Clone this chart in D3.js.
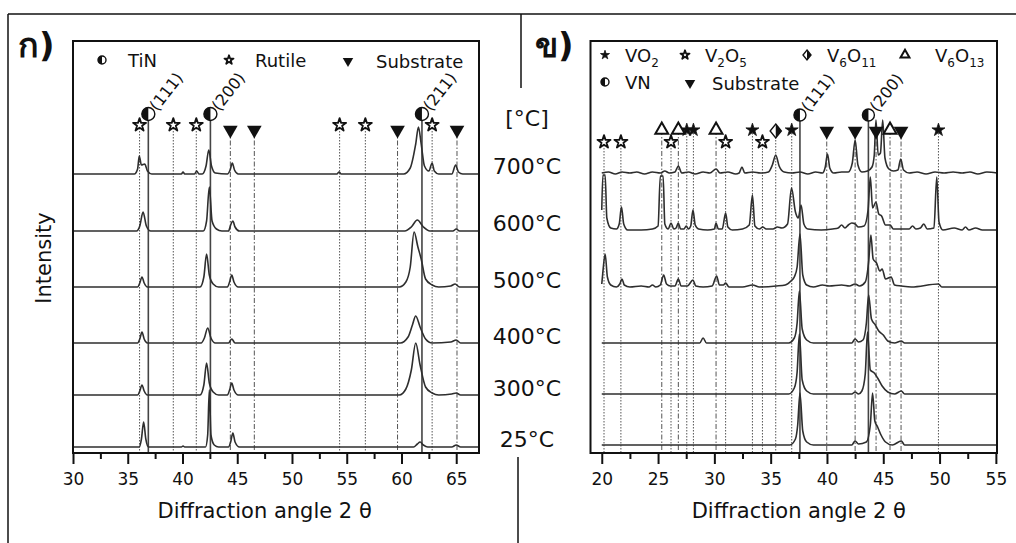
<!DOCTYPE html>
<html>
<head>
<meta charset="utf-8">
<script src="https://cdn.jsdelivr.net/npm/d3@7"></script>
<style>
  body { margin: 0; background: #fff; }
  text { font-family: "DejaVu Sans", sans-serif; fill: #111; }
</style>
</head>
<body>
<svg id="fig" width="1016" height="543"></svg>
<script>
// ---- data: temperatures and baseline offsets (intensity units) ----
const temps = ["700°C", "600°C", "500°C", "400°C", "300°C", "25°C"];
const offsetsL = [279, 222, 166, 110, 58, 6];
const offsetsR = [280, 223, 166, 110, 59, 8];

// panel ก : TiN films, [2θ, intensity]
const tiL700 = [[30,0],[35.6,0],[35.9,5],[36.05,18],[36.25,9],[36.55,10],[36.8,3],[37.2,0],[39.9,0],[40.05,2],[40.2,0],[41.1,0],[41.3,3],[41.5,0],[41.8,0],[42.15,8],[42.4,24],[42.65,8],[43.0,1],[44.1,0],[44.35,4],[44.55,11],[44.75,4],[45.1,0],[54.1,0],[54.3,2],[54.5,0],[60.2,0],[60.8,6],[61.3,30],[61.55,47],[61.8,30],[62.1,8],[62.5,3],[62.8,11],[63.0,3],[63.4,0],[64.6,0],[64.95,9],[65.2,2],[65.6,0],[67.08,0]];
const tiL600 = [[30,0],[35.8,0],[36.1,5],[36.4,19],[36.7,5],[37.1,0],[41.9,0],[42.2,10],[42.45,44],[42.7,10],[43.1,2],[43.6,0],[44.2,0],[44.4,6],[44.6,10],[44.8,4],[45.2,0],[60.3,0],[60.9,4],[61.45,11],[62.0,4],[62.6,0],[64.7,0],[65,2],[65.3,0],[67.08,0]];
const tiL500 = [[30,0],[35.9,0],[36.1,4],[36.3,10],[36.5,4],[36.8,0],[41.6,0],[41.95,10],[42.2,33],[42.45,12],[42.8,3],[43.3,0],[44.1,0],[44.3,5],[44.5,12],[44.7,5],[45.1,0],[59.8,0],[60.4,5],[60.8,20],[61.15,55],[61.5,40],[61.8,28],[62.2,8],[62.8,2],[63.4,0],[64.5,1],[64.9,3],[65.3,0],[67.08,0]];
const tiL400 = [[30,0],[35.9,0],[36.1,4],[36.3,11],[36.5,4],[36.8,0],[41.7,0],[42.0,5],[42.3,15],[42.6,5],[43.0,0],[44.2,0],[44.5,4],[44.8,0],[59.9,0],[60.6,6],[61.0,18],[61.3,27],[61.7,16],[62.2,4],[62.8,0],[64.5,1],[65,3],[65.4,0],[67.08,0]];
const tiL300 = [[30,0],[35.9,0],[36.1,4],[36.3,10],[36.5,4],[36.8,0],[41.6,0],[41.95,10],[42.2,32],[42.45,12],[42.8,3],[43.3,0],[44.1,0],[44.3,5],[44.5,12],[44.7,5],[45.1,0],[59.8,0],[60.4,6],[60.9,25],[61.3,52],[61.7,30],[62.2,8],[62.8,2],[63.4,0],[64.6,1],[65,2],[65.4,0],[67.08,0]];
const tiL25 = [[30,0],[36.05,0],[36.25,8],[36.45,25],[36.65,8],[36.9,0],[39.9,0],[40.05,1],[40.2,0],[42.1,0],[42.3,12],[42.45,57],[42.6,12],[42.9,2],[43.3,0],[44.2,0],[44.4,5],[44.6,14],[44.8,5],[45.2,0],[61.1,0],[61.45,3],[61.7,5],[62.0,2],[62.4,0],[64.6,0],[65,2],[65.4,0],[67.08,0]];

// panel ข : VN films
const vR700 = [[20,0],[20.6,1],[21.2,-1],[21.8,1],[22.5,0],[23.1,1],[23.8,-1],[24.5,1],[25.2,0],[25.6,2],[26.0,0],[26.5,1],[26.8,7],[27.1,0],[27.7,1],[28.3,-1],[29.0,1],[29.6,0],[30.15,4],[30.5,0],[31.2,1],[31.9,-1],[32.2,0],[32.45,6],[32.7,0],[33.4,1],[34.1,0],[34.8,1],[35.15,8],[35.45,18],[35.75,7],[36.2,1],[36.9,0],[37.6,1],[38.3,-1],[39.0,1],[39.6,0],[39.85,6],[40.05,19],[40.25,5],[40.6,0],[41.3,1],[41.9,1],[42.25,10],[42.5,33],[42.75,8],[43.1,1],[43.6,2],[44.0,6],[44.2,18],[44.35,53],[44.55,18],[44.75,20],[44.95,53],[45.15,15],[45.5,4],[45.9,2],[46.3,3],[46.55,14],[46.8,3],[47.3,0],[48.0,1],[48.8,-1],[49.6,1],[50.4,0],[51.2,1],[52.0,0],[52.7,1],[53.4,-1],[54.2,1],[55.1,0]];
const vR600 = [[20,20],[20.1,55],[20.3,55],[20.45,12],[20.8,2],[21.3,1],[21.55,6],[21.75,23],[21.95,6],[22.3,0],[23.5,0],[24.5,1],[25.0,4],[25.2,54],[25.45,54],[25.6,6],[25.9,1],[26.15,7],[26.4,1],[26.6,2],[26.8,7],[27.0,1],[27.3,1],[27.5,4],[27.7,1],[27.9,4],[28.1,20],[28.3,5],[28.6,1],[29.4,0],[30.0,1],[30.15,7],[30.35,1],[30.7,1],[31.0,17],[31.2,3],[31.6,0],[32.5,1],[33.1,5],[33.38,35],[33.6,4],[34.0,1],[34.3,3],[34.6,1],[35.2,1],[35.6,3],[36.0,2],[36.5,6],[36.85,42],[37.2,18],[37.45,12],[37.7,25],[37.95,6],[38.3,1],[39.5,0],[40.5,1],[41.0,2],[41.3,5],[41.6,2],[41.9,5],[42.2,7],[42.5,6],[42.8,3],[43.3,4],[43.65,20],[43.85,53],[44.05,22],[44.35,28],[44.6,16],[44.85,14],[45.2,5],[45.6,5],[45.9,1],[46.6,1],[47.3,1],[47.6,4],[47.9,1],[48.3,2],[48.6,6],[48.9,1],[49.5,2],[49.75,53],[49.95,8],[50.3,0],[51.3,2],[52.0,0],[52.3,3],[52.6,0],[53.2,2],[53.8,0],[55.1,0]];
const vR500 = [[20,3],[20.1,15],[20.3,33],[20.5,10],[20.8,2],[21.3,0],[21.6,3],[21.8,8],[22.0,2],[22.5,0],[23.5,1],[24.2,0],[24.5,2],[24.8,0],[25.2,2],[25.5,12],[25.75,3],[26.1,1],[26.5,1],[26.8,8],[27.05,1],[27.6,1],[28.1,7],[28.35,1],[29.0,0],[29.8,1],[30.2,11],[30.45,2],[30.8,2],[31.0,4],[31.3,0],[32.5,0],[33.4,2],[34.0,0],[35.5,1],[36.3,2],[36.8,6],[37.1,10],[37.35,20],[37.6,53],[37.85,12],[38.2,2],[38.8,0],[39.6,2],[40.2,1],[41.3,2],[42.0,1],[42.5,3],[42.9,1],[43.4,5],[43.7,25],[43.9,52],[44.1,28],[44.4,24],[44.7,16],[44.9,18],[45.2,8],[45.7,10],[46.0,2],[46.6,1],[47.5,0],[49.9,3],[50.2,0],[55.1,0]];
const vR400 = [[20,0],[28.7,0],[29.0,5],[29.3,0],[36.6,0],[37.1,5],[37.35,20],[37.55,52],[37.8,14],[38.2,3],[38.8,0],[42.2,0],[42.5,4],[42.8,1],[43.2,3],[43.5,20],[43.7,48],[43.95,24],[44.3,18],[44.6,12],[45.0,8],[45.4,2],[46.0,0],[46.6,2],[46.9,0],[55.1,0]];
const vR300 = [[20,0],[36.6,0],[37.1,6],[37.35,22],[37.55,60],[37.8,14],[38.2,3],[38.8,0],[42.2,0],[42.5,2],[42.8,0],[43.1,3],[43.4,20],[43.6,62],[43.85,24],[44.2,21],[44.5,16],[44.9,8],[45.4,2],[46.0,0],[46.6,3],[46.9,0],[55.1,0]];
const vR25 = [[20,0],[36.7,0],[37.2,6],[37.4,20],[37.6,52],[37.85,14],[38.2,3],[38.8,0],[42.2,0],[42.5,4],[42.8,1],[43.5,3],[43.85,20],[44.05,52],[44.25,24],[44.5,18],[44.8,10],[45.2,3],[45.8,0],[46.6,4],[46.9,0],[55.1,0]];

// reference peak positions (2θ)
const tinPeaks = [36.88, 42.55, 61.87];
const tinHkl = ["(111)", "(200)", "(211)"];
const rutilePeaks = [36.08, 39.16, 41.26, 54.35, 56.7, 62.8];
const substrateL = [44.37, 46.56, 59.64, 65.07];

const vnPeaks = [37.6, 43.68];
const vnHkl = ["(111)", "(200)"];
const vo2Peaks = [27.55, 28.14, 33.38, 36.87, 49.9];
const v2o5Peaks = [20.2, 21.7, 26.15, 31.0, 34.27];
const v6o11Peaks = [35.45];
const v6o13Peaks = [25.33, 26.8, 30.15, 45.6];
const substrateR = [39.98, 42.5, 44.36, 46.58];

const ticksL = [30, 35, 40, 45, 50, 55, 60, 65];
const ticksR = [20, 25, 30, 35, 40, 45, 50, 55];

// ---- drawing ----
const svg = d3.select("#fig");
const ink = "#111";
const plotTop = 41, plotBottom = 453;

// outer frame of the figure
const frame = svg.append("g").attr("stroke", ink).attr("stroke-width", 1.5);
frame.append("line").attr("x1", 8).attr("x2", 1016).attr("y1", 14).attr("y2", 14);
frame.append("line").attr("x1", 8).attr("x2", 8).attr("y1", 14).attr("y2", 543);
frame.append("line").attr("x1", 521).attr("x2", 521).attr("y1", 14).attr("y2", 88);
frame.append("line").attr("x1", 518).attr("x2", 518).attr("y1", 457).attr("y2", 543);

function drawSymbol(g, type, x, y, s) {
  const t = g.append("g").attr("transform", `translate(${x},${y})`);
  if (type === "half") {
    t.append("circle").attr("r", s).attr("fill", "#fff").attr("stroke", ink).attr("stroke-width", 1.4);
    t.append("path").attr("d", `M0,${-s}A${s},${s} 0 0 0 0,${s}Z`).attr("fill", ink);
  } else if (type === "openStar") {
    t.append("path").attr("d", d3.symbol(d3.symbolStar, s * s * 1.25)())
      .attr("fill", "#fff").attr("stroke", ink).attr("stroke-width", 1.8)
      .attr("stroke-linejoin", "round");
  } else if (type === "star") {
    t.append("path").attr("d", d3.symbol(d3.symbolStar, s * s * 1.25)()).attr("fill", ink)
      .attr("stroke", ink).attr("stroke-width", 0.8).attr("stroke-linejoin", "round");
  } else if (type === "down") {
    t.append("path").attr("d", d3.symbol(d3.symbolTriangle, s * s * 1.9)())
      .attr("transform", "rotate(180)").attr("fill", ink);
  } else if (type === "openUp") {
    t.append("path").attr("d", d3.symbol(d3.symbolTriangle, s * s * 1.7)())
      .attr("fill", "#fff").attr("stroke", ink).attr("stroke-width", 2);
  } else if (type === "halfDiamond") {
    const w = s * 0.8;
    t.append("path").attr("d", `M0,${-s}L${w},0L0,${s}L${-w},0Z`)
      .attr("fill", "#fff").attr("stroke", ink).attr("stroke-width", 1.4);
    t.append("path").attr("d", `M0,${-s}L${w},0L0,${s}Z`).attr("fill", ink);
  }
}

function drawPanel(p) {
  const x = d3.scaleLinear().domain(p.domain).range([p.left, p.right]);
  const y = d3.scaleLinear().domain([0, plotBottom - plotTop]).range([plotBottom, plotTop]);
  const g = svg.append("g");

  const clipId = "clip" + p.id;
  svg.append("clipPath").attr("id", clipId).append("rect")
    .attr("x", p.left).attr("y", plotTop).attr("width", p.right - p.left).attr("height", plotBottom - plotTop);

  // reference lines
  const refs = g.append("g").attr("clip-path", `url(#${clipId})`);
  p.markers.forEach(m => {
    m.peaks.forEach(v => {
      refs.append("line")
        .attr("x1", x(v)).attr("x2", x(v)).attr("y1", m.y).attr("y2", plotBottom)
        .attr("stroke", m.solid ? "#444" : "#555")
        .attr("stroke-width", m.solid ? 1.6 : 1)
        .attr("stroke-dasharray", m.dash);
    });
  });

  // traces
  const line = d3.line().curve(d3.curveMonotoneX);
  const tr = g.append("g").attr("clip-path", `url(#${clipId})`);
  p.traces.forEach((d, i) => {
    tr.append("path")
      .attr("d", line.x(q => x(q[0])).y(q => y(q[1] + p.offsets[i]))(d))
      .attr("fill", "none").attr("stroke", "#2e2e2e").attr("stroke-width", 1.6);
  });

  // marker symbols
  p.markers.forEach(m => {
    m.peaks.forEach(v => drawSymbol(g, m.type, x(v), m.y, m.size));
  });
  if (p.hkl) {
    p.hkl.peaks.forEach((v, i) => {
      g.append("text")
        .attr("transform", `translate(${x(v) + 9},${p.hkl.y - 2}) rotate(-52)`)
        .attr("font-size", 16).text(p.hkl.labels[i]);
    });
  }

  // plot box
  g.append("rect").attr("x", p.left).attr("y", plotTop)
    .attr("width", p.right - p.left).attr("height", plotBottom - plotTop)
    .attr("fill", "none").attr("stroke", ink).attr("stroke-width", 2);

  // axis
  const minor = d3.range(p.ticks[0] + 2.5, p.domain[1], 5);
  const ax = g.append("g").attr("transform", `translate(0,${plotBottom})`);
  ax.call(d3.axisBottom(x).tickValues(p.ticks).tickSize(11).tickPadding(9));
  ax.append("g").call(d3.axisBottom(x).tickValues(minor).tickSize(6).tickFormat(""));
  ax.selectAll(".domain").remove();
  ax.selectAll("line").attr("stroke", ink).attr("stroke-width", 2);
  ax.selectAll("text").attr("font-size", 17).attr("fill", ink)
    .attr("font-family", "DejaVu Sans, sans-serif");

  g.append("text").attr("x", (x(p.ticks[0]) + x(p.ticks[p.ticks.length - 1])) / 2).attr("y", 518)
    .attr("text-anchor", "middle").attr("font-size", 21).text("Diffraction angle 2 θ");

  // legend
  p.legend.forEach(l => {
    drawSymbol(g, l.type, l.sx, l.y, l.size);
    const t = g.append("text").attr("x", l.tx).attr("y", l.y + 7).attr("font-size", 18);
    l.parts.forEach(part => {
      if (typeof part === "string") t.append("tspan").text(part);
      else t.append("tspan").attr("font-size", part.big ? 18 : 12).attr("dy", part.dy).text(part.s);
    });
  });

  g.append("text").attr("x", p.tagX).attr("y", 57)
    .attr("font-family", "'Noto Sans Thai','Noto Serif Thai','Loma','Garuda','Tlwg Typo',serif")
    .attr("font-size", 34).attr("font-weight", "bold").text(p.tag);
}

drawPanel({
  id: "L", domain: [30, 67.08], left: 73, right: 479, ticks: ticksL,
  traces: [tiL700, tiL600, tiL500, tiL400, tiL300, tiL25], offsets: offsetsL,
  markers: [
    { peaks: rutilePeaks, type: "openStar", y: 125, size: 6.5, dash: "1.5,1.5" },
    { peaks: substrateL, type: "down", y: 130, size: 7, dash: "5,2,1.5,2" },
    { peaks: tinPeaks, type: "half", y: 114, size: 6.5, solid: true, dash: null }
  ],
  hkl: { peaks: tinPeaks, labels: tinHkl, y: 114 },
  legend: [
    { type: "half", sx: 102, tx: 128, y: 60, size: 4, parts: ["TiN"] },
    { type: "openStar", sx: 229, tx: 255, y: 60, size: 4.5, parts: ["Rutile"] },
    { type: "down", sx: 348, tx: 376, y: 61, size: 5, parts: ["Substrate"] }
  ],
  tag: "ก)", tagX: 18
});

drawPanel({
  id: "R", domain: [19, 55.1], left: 590.5, right: 997, ticks: ticksR,
  traces: [vR700, vR600, vR500, vR400, vR300, vR25], offsets: offsetsR,
  markers: [
    { peaks: v2o5Peaks, type: "openStar", y: 142, size: 6.5, dash: "1.5,1.5" },
    { peaks: vo2Peaks, type: "star", y: 130, size: 6.5, dash: "1.5,1.5" },
    { peaks: v6o13Peaks, type: "openUp", y: 130, size: 6.5, dash: "5,2,1.5,2" },
    { peaks: v6o11Peaks, type: "halfDiamond", y: 131, size: 7, dash: "1.5,1.5" },
    { peaks: substrateR, type: "down", y: 131, size: 7, dash: "5,2,1.5,2" },
    { peaks: vnPeaks, type: "half", y: 115, size: 6, solid: true, dash: null }
  ],
  hkl: { peaks: vnPeaks, labels: vnHkl, y: 115 },
  legend: [
    { type: "star", sx: 605, tx: 625, y: 55, size: 4.5, parts: ["VO", { s: "2", dy: 5 }] },
    { type: "openStar", sx: 685, tx: 705, y: 55, size: 4.5, parts: ["V", { s: "2", dy: 5 }, { s: "O", dy: -5, big: true }, { s: "5", dy: 5 }] },
    { type: "halfDiamond", sx: 807, tx: 827, y: 55, size: 5, parts: ["V", { s: "6", dy: 5 }, { s: "O", dy: -5, big: true }, { s: "11", dy: 5 }] },
    { type: "openUp", sx: 905, tx: 935, y: 55, size: 4.5, parts: ["V", { s: "6", dy: 5 }, { s: "O", dy: -5, big: true }, { s: "13", dy: 5 }] },
    { type: "half", sx: 605, tx: 625, y: 82, size: 4, parts: ["VN"] },
    { type: "down", sx: 690, tx: 712, y: 83, size: 5, parts: ["Substrate"] }
  ],
  tag: "ข)", tagX: 535
});

// Intensity label
svg.append("text").attr("transform", "translate(51,258) rotate(-90)")
  .attr("text-anchor", "middle").attr("font-size", 21).text("Intensity");

// temperature labels between panels
const tempY = [166, 222.5, 279.5, 335.5, 388, 439];
svg.append("text").attr("x", 527).attr("y", 126).attr("text-anchor", "middle")
  .attr("font-size", 22).text("[°C]");
svg.selectAll("text.temp").data(temps).join("text").attr("class", "temp")
  .attr("x", 527).attr("y", (d, i) => tempY[i] + 8).attr("text-anchor", "middle")
  .attr("font-size", 22).text(d => d);
</script>
</body>
</html>
